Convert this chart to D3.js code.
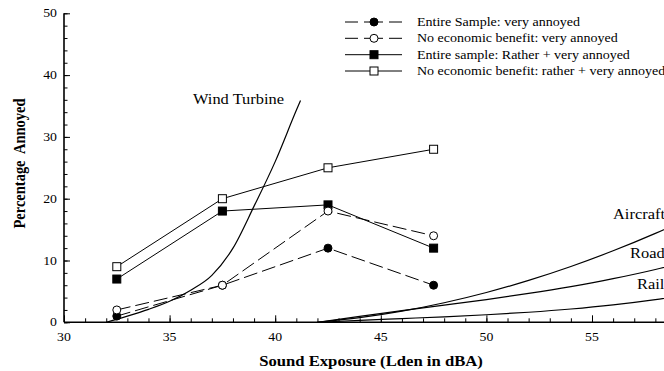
<!DOCTYPE html>
<html>
<head>
<meta charset="utf-8">
<script src="https://cdn.jsdelivr.net/npm/d3@7"></script>
<style>
  html, body { margin: 0; padding: 0; background: #fff; }
  svg { display: block; }
</style>
</head>
<body>
<svg id="chart" width="664" height="371"></svg>
<script>
// Survey results, grouped by sound exposure class (Lden, dBA)
const surveyLevels = [32.5, 37.5, 42.5, 47.5];
const entireVery = [1, 6, 12, 6];
const noBenefitVery = [2, 6, 18, 14];
const entireRather = [7, 18, 19, 12];
const noBenefitRather = [9, 20, 25, 28];
const seriesNames = [
  "Entire Sample: very annoyed",
  "No economic benefit: very annoyed",
  "Entire sample: Rather + very annoyed",
  "No economic benefit: rather + very annoyed"
];

// Exposure-response curve for wind turbines
const windLevels = [32, 33, 34, 35, 36, 37, 38, 39, 40, 41, 41.2];
const windValues = [0, 1.0, 2.1, 3.4, 5.2, 7.6, 12.0, 18.8, 26.0, 34.3, 35.9];

// Exposure-response curves for transportation noise
const transportLevels = [42, 44, 46, 48, 50, 52, 54, 56, 58, 60];
const aircraftValues = [0, 0.75, 1.80, 3.16, 4.82, 6.78, 9.03, 11.57, 14.39, 17.49];
const roadValues = [0, 0.97, 1.88, 2.77, 3.68, 4.67, 5.78, 7.06, 8.55, 10.31];
const railValues = [0, 0.31, 0.60, 0.89, 1.22, 1.63, 2.15, 2.82, 3.67, 4.73];
const curveLabels = ["Wind Turbine", "Aircraft", "Road", "Rail"];

// Axis ticks and titles
const xMajorTicks = [30, 35, 40, 45, 50, 55];
const xMinorTicks = d3.range(30, 60, 1);
const yMajorTicks = [0, 10, 20, 30, 40, 50];
const yMinorTicks = d3.range(0, 51, 2);
const xTitle = "Sound Exposure (Lden in dBA)";
const yTitle = "Percentage  Annoyed";

const SERIF = "'Liberation Serif', 'Times New Roman', Times, serif";
const SX = 1.15; // horizontal widening applied to all text

const svg = d3.select("#chart");

const x = d3.scaleLinear().domain([30, 60]).range([64, 64 + 30 * 21.12]);
const y = d3.scaleLinear().domain([0, 50]).range([322.3, 13.3]);

function placeText(sel, px, py, extra) {
  return sel.attr("transform", `translate(${px},${py}) scale(${SX},1)` + (extra || ""));
}

// ---- Axes ----
const xAxisMinor = d3.axisBottom(x).tickValues(xMinorTicks).tickSize(-4).tickFormat("");
const xAxisMajor = d3.axisBottom(x).tickValues(xMajorTicks).tickSize(-7).tickFormat("");
const yAxisMinor = d3.axisLeft(y).tickValues(yMinorTicks).tickSize(-3.5).tickFormat("");
const yAxisMajor = d3.axisLeft(y).tickValues(yMajorTicks).tickSize(-6).tickFormat("");

function styleAxis(g) {
  g.select(".domain").remove();
  g.selectAll(".tick line").attr("stroke", "#000").attr("stroke-width", 1);
}

svg.append("g").attr("transform", `translate(0,${y(0)})`).call(xAxisMinor).call(styleAxis);
svg.append("g").attr("transform", `translate(0,${y(0)})`).call(xAxisMajor).call(styleAxis);
svg.append("g").attr("transform", `translate(${x(30)},0)`).call(yAxisMinor).call(styleAxis);
svg.append("g").attr("transform", `translate(${x(30)},0)`).call(yAxisMajor).call(styleAxis);

// axis lines
svg.append("line")
  .attr("x1", x(30)).attr("x2", x(60)).attr("y1", y(0)).attr("y2", y(0))
  .attr("stroke", "#000").attr("stroke-width", 1.6);
svg.append("line")
  .attr("x1", x(30)).attr("x2", x(30)).attr("y1", y(0)).attr("y2", y(50))
  .attr("stroke", "#000").attr("stroke-width", 1.6);

// tick labels
xMajorTicks.forEach(v => {
  placeText(svg.append("text"), x(v), 341)
    .attr("text-anchor", "middle")
    .attr("font-family", SERIF).attr("font-size", 12)
    .text(v);
});
yMajorTicks.forEach(v => {
  placeText(svg.append("text"), 57, y(v) + 4)
    .attr("text-anchor", "end")
    .attr("font-family", SERIF).attr("font-size", 12)
    .text(v);
});

// axis titles
placeText(svg.append("text"), 371, 366)
  .attr("text-anchor", "middle")
  .attr("font-family", SERIF).attr("font-weight", "bold").attr("font-size", 14.5)
  .text(xTitle);
placeText(svg.append("text"), 25, 163.5, " rotate(-90)")
  .attr("text-anchor", "middle")
  .attr("font-family", SERIF).attr("font-weight", "bold").attr("font-size", 14.5)
  .attr("xml:space", "preserve")
  .style("white-space", "pre")
  .text(yTitle);

// ---- Reference curves ----
const curveLine = d3.line()
  .x(d => x(d[0]))
  .y(d => y(d[1]))
  .curve(d3.curveMonotoneX);

const curves = [
  d3.zip(windLevels, windValues),
  d3.zip(transportLevels, aircraftValues),
  d3.zip(transportLevels, roadValues),
  d3.zip(transportLevels, railValues)
];
curves.forEach(c => {
  svg.append("path")
    .attr("d", curveLine(c))
    .attr("fill", "none")
    .attr("stroke", "#000")
    .attr("stroke-width", 1.2);
});

const curveLabelPos = [[193, 104], [613, 219], [630, 258], [637, 289]];
curveLabels.forEach((t, i) => {
  placeText(svg.append("text"), curveLabelPos[i][0], curveLabelPos[i][1])
    .attr("font-family", SERIF).attr("font-size", 14.3)
    .text(t);
});

// ---- Survey series ----
const series = [
  { values: entireRather, dash: null, shape: "square", fill: "#000" },
  { values: noBenefitRather, dash: null, shape: "square", fill: "#fff" },
  { values: entireVery, dash: "14,5", shape: "circle", fill: "#000" },
  { values: noBenefitVery, dash: "14,5", shape: "circle", fill: "#fff" }
];
const legendOrder = [2, 3, 0, 1];

const straight = d3.line().x(d => x(d[0])).y(d => y(d[1]));

function drawMarker(g, shape, fill, cx, cy) {
  if (shape === "circle") {
    g.append("circle").attr("cx", cx).attr("cy", cy).attr("r", 4)
      .attr("fill", fill).attr("stroke", "#000").attr("stroke-width", 1);
  } else {
    g.append("rect").attr("x", cx - 4).attr("y", cy - 4).attr("width", 8).attr("height", 8)
      .attr("fill", fill).attr("stroke", "#000").attr("stroke-width", 1);
  }
}

series.forEach(s => {
  const pts = d3.zip(surveyLevels, s.values);
  svg.append("path")
    .attr("d", straight(pts))
    .attr("fill", "none")
    .attr("stroke", "#000")
    .attr("stroke-width", 1)
    .attr("stroke-dasharray", s.dash);
});
series.forEach(s => {
  const g = svg.append("g");
  surveyLevels.forEach((lv, i) => drawMarker(g, s.shape, s.fill, x(lv), y(s.values[i])));
});

// ---- Legend ----
const legendRowsY = [22, 38.3, 54.7, 71];
legendOrder.forEach((si, row) => {
  const s = series[si];
  const ly = legendRowsY[row];
  const g = svg.append("g");
  g.append("line")
    .attr("x1", 345).attr("x2", 402).attr("y1", ly).attr("y2", ly)
    .attr("stroke", "#000").attr("stroke-width", 1)
    .attr("stroke-dasharray", s.dash ? "13,6,19,6,13" : null);
  drawMarker(g, s.shape, s.fill, 374, ly);
  placeText(svg.append("text"), 417, ly + 4)
    .attr("font-family", SERIF).attr("font-size", 12.2)
    .text(seriesNames[row]);
});
</script>
</body>
</html>
